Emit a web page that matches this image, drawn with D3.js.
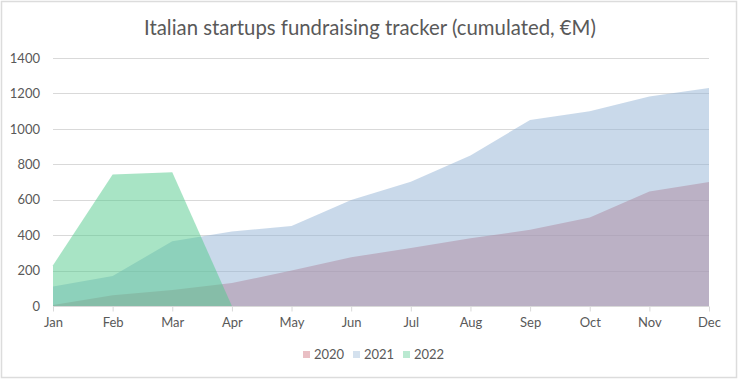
<!DOCTYPE html>
<html><head><meta charset="utf-8">
<script src="https://cdn.jsdelivr.net/npm/d3@7"></script>
<style>body{margin:0;background:#fff;} svg{display:block;}</style>
</head><body>
<svg id="c" width="740" height="381"></svg>
<script>
const months = ["Jan","Feb","Mar","Apr","May","Jun","Jul","Aug","Sep","Oct","Nov","Dec"];
const v2020 = [5, 60, 90, 130, 200, 275, 328, 383, 430, 500, 647, 700];
const v2021 = [110, 170, 365, 420, 452, 598, 702, 850, 1050, 1100, 1182, 1230];
const v2022 = [230, 742, 755, 0];
const yTicks = [0, 200, 400, 600, 800, 1000, 1200, 1400];
const seriesNames = ["2020", "2021", "2022"];
const seriesColors = ["#c75f6b", "#93b3d5", "#52c98c"];
const title = "Italian startups fundraising tracker (cumulated, €M)";

const svg = d3.select("#c");
const font = "Lato, 'Open Sans', sans-serif";
const grey = "#595959";

svg.append("rect").attr("x",1.5).attr("y",1.5).attr("width",735).attr("height",376)
  .attr("fill","#fff").attr("stroke","#dcdcdc").attr("stroke-width",1.5);

const x = d3.scalePoint().domain(months).range([53, 709]);
const y = d3.scaleLinear().domain([0, 1400]).range([306, 58]);

// gridlines
svg.append("g").selectAll("line").data(yTicks.slice(1)).join("line")
  .attr("x1", 53).attr("x2", 709).attr("y1", d => Math.round(y(d))+0.5).attr("y2", d => Math.round(y(d))+0.5)
  .attr("stroke", "#d9d9d9").attr("stroke-width", 1);

const area = d3.area().x(d => x(d.m)).y0(y(0)).y1(d => y(d.v));
const series = [v2020, v2021, v2022];
series.forEach((vals, i) => {
  const data = vals.map((v, j) => ({m: months[j], v}));
  svg.append("path").datum(data).attr("d", area)
    .attr("fill", seriesColors[i]).attr("fill-opacity", 0.5);
});

// x axis
const xAxis = d3.axisBottom(x).tickSize(5).tickPadding(6);
const gx = svg.append("g").attr("transform", `translate(0,${Math.round(y(0))+0.5})`).call(xAxis);
gx.select(".domain").attr("stroke", "#d9d9d9").attr("d", "M53,0H709");
gx.selectAll(".tick line").attr("stroke", "#d9d9d9");
gx.selectAll("text").attr("fill", grey).attr("font-family", font).attr("font-size", 13);

// y axis
const yAxis = d3.axisLeft(y).tickValues(yTicks).tickFormat(d3.format("d")).tickSize(0).tickPadding(13);
const gy = svg.append("g").attr("transform", "translate(53,0)").call(yAxis);
gy.select(".domain").remove();
gy.selectAll("text").attr("fill", grey).attr("font-family", font).attr("font-size", 13);

// title
const t = svg.append("text").attr("x", 370).attr("y", 35).attr("text-anchor", "middle")
  .attr("fill", grey).attr("font-family", font).attr("font-size", 20).text(title);
const tw = t.node().getComputedTextLength();
t.attr("font-size", 20 * 452 / tw);

// legend
const legX = [303, 353, 403];
seriesNames.forEach((n, i) => {
  svg.append("rect").attr("x", legX[i]).attr("y", 351).attr("width", 7).attr("height", 7)
    .attr("fill", seriesColors[i]).attr("fill-opacity", 0.4);
  svg.append("text").attr("x", legX[i] + 11).attr("y", 359).attr("fill", grey)
    .attr("font-family", font).attr("font-size", 13).text(n);
});
</script>
</body></html>
